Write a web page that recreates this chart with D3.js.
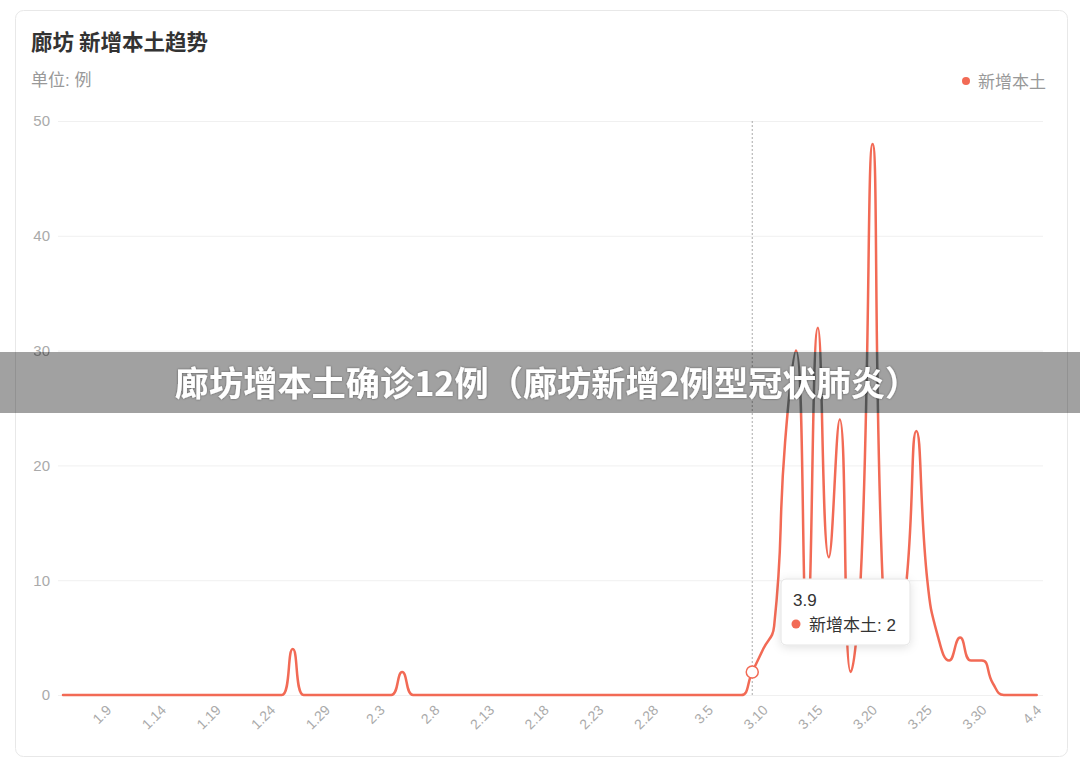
<!DOCTYPE html>
<html><head><meta charset="utf-8">
<script src="https://cdn.jsdelivr.net/npm/d3@7"></script>
<style>
html,body{margin:0;padding:0;background:#fff;}
svg{display:block;font-family:"Liberation Sans","Noto Sans CJK SC",sans-serif;}
</style></head>
<body>
<svg id="chart" width="1080" height="766"></svg>
<script>
const dates = ["1.5","1.6","1.7","1.8","1.9","1.10","1.11","1.12","1.13","1.14","1.15","1.16","1.17","1.18","1.19","1.20","1.21","1.22","1.23","1.24","1.25","1.26","1.27","1.28","1.29","1.30","1.31",
"2.1","2.2","2.3","2.4","2.5","2.6","2.7","2.8","2.9","2.10","2.11","2.12","2.13","2.14","2.15","2.16","2.17","2.18","2.19","2.20","2.21","2.22","2.23","2.24","2.25","2.26","2.27","2.28",
"3.1","3.2","3.3","3.4","3.5","3.6","3.7","3.8","3.9","3.10","3.11","3.12","3.13","3.14","3.15","3.16","3.17","3.18","3.19","3.20","3.21","3.22","3.23","3.24","3.25","3.26","3.27","3.28","3.29","3.30","3.31",
"4.1","4.2","4.3","4.4"];
const newLocal = [0,0,0,0,0,0,0,0,0,0,0,0,0,0,0,0,0,0,0,0,0,4,0,0,0,0,0,
0,0,0,0,2,0,0,0,0,0,0,0,0,0,0,0,0,0,0,0,0,0,0,0,0,0,0,0,
0,0,0,0,0,0,0,0,2,4,6,22,30,6,32,12,24,2,12,48,8,6,9,23,10,5,3,5,3,3,1,
0,0,0,0];
const tickLabels = ["1.9","1.14","1.19","1.24","1.29","2.3","2.8","2.13","2.18","2.23","2.28","3.5","3.10","3.15","3.20","3.25","3.30","4.4"];
const yTicks = [0,10,20,30,40,50];
const seriesName = "新增本土";
const chartTitle = "廊坊 新增本土趋势";
const unitLabel = "单位: 例";
const bannerText = "廊坊增本土确诊12例（廊坊新增2例型冠状肺炎）";
const tooltipDate = "3.9";

const lineColor = "#f26a55";
const svg = d3.select("#chart");

// defs
const defs = svg.append("defs");
const gm = defs.append("filter").attr("id","grayDim").attr("color-interpolation-filters","sRGB")
  .attr("filterUnits","userSpaceOnUse").attr("x",0).attr("y",0).attr("width",1080).attr("height",766);
const k = 0.63;
const r1 = [0.2126*k,0.7152*k,0.0722*k,0,0].join(" ");
gm.append("feColorMatrix").attr("type","matrix")
  .attr("values", `${r1} ${r1} ${r1} 0 0 0 1 0`);
defs.append("clipPath").attr("id","bannerClip").append("rect")
  .attr("x",0).attr("y",352).attr("width",1080).attr("height",61);
const sh = defs.append("filter").attr("id","tipShadow").attr("x","-30%").attr("y","-30%").attr("width","160%").attr("height","180%");
sh.append("feDropShadow").attr("dx",0).attr("dy",2).attr("stdDeviation",5).attr("flood-color","#000").attr("flood-opacity",0.12);
const ts = defs.append("filter").attr("id","txtShadow").attr("x","-5%").attr("y","-30%").attr("width","110%").attr("height","160%");
ts.append("feDropShadow").attr("dx",0).attr("dy",0).attr("stdDeviation",1.2).attr("flood-color","#000").attr("flood-opacity",0.45);

const content = svg.append("g").attr("id","content");
content.append("rect").attr("width",1080).attr("height",766).attr("fill","#fff");
content.append("rect").attr("x",15.5).attr("y",10.5).attr("width",1052).attr("height",746)
  .attr("rx",8).attr("fill","#fff").attr("stroke","#e8e8e8");

content.append("text").attr("x",31).attr("y",50).attr("font-size",21.5).attr("font-weight","bold")
  .attr("font-family","'Noto Sans CJK SC',sans-serif")
  .attr("fill","#333").text(chartTitle);
content.append("text").attr("x",31).attr("y",86).attr("font-size",17)
  .attr("fill","#999").text(unitLabel);

// legend
content.append("circle").attr("cx",966).attr("cy",81).attr("r",4).attr("fill",lineColor);
content.append("text").attr("x",978).attr("y",88).attr("font-size",17).attr("fill","#999").text(seriesName);

const x = d3.scalePoint().domain(dates).range([63, 1036.7]);
const y = d3.scaleLinear().domain([0,50]).range([695,121]);

// y axis + grid
const yAxis = content.append("g").attr("transform","translate(58,0)")
  .call(d3.axisLeft(y).tickValues(yTicks).tickSize(-985).tickPadding(8));
yAxis.select(".domain").remove();
yAxis.selectAll(".tick line").attr("stroke","#f0f0f0");
yAxis.selectAll(".tick text").attr("fill","#aaa").attr("font-size",15)
  .attr("font-family","'Liberation Sans',Arial,sans-serif");

// x axis labels
const xAxis = content.append("g").attr("transform","translate(0,695)")
  .call(d3.axisBottom(x).tickValues(tickLabels).tickSize(0).tickPadding(0));
xAxis.select(".domain").remove();
xAxis.selectAll(".tick text")
  .attr("fill","#aaa").attr("font-size",14)
  .attr("font-family","'Liberation Sans',Arial,sans-serif")
  .attr("text-anchor","end").attr("dy",0).attr("y",0)
  .attr("transform","translate(5,16) rotate(-45)");

// hover dashed line
const tx = x(tooltipDate);
content.append("line").attr("x1",tx).attr("x2",tx).attr("y1",121).attr("y2",695)
  .attr("stroke","#aaa").attr("stroke-width",1).attr("stroke-dasharray","2,2");

// ECharts-like smooth curve
function ecSmooth(s){
  return function(ctx){
    return {
      areaStart(){}, areaEnd(){},
      lineStart(){ this._p=[]; },
      point(px,py){ this._p.push([+px,+py]); },
      lineEnd(){
        const p=this._p, n=p.length; if(!n) return;
        ctx.moveTo(p[0][0],p[0][1]);
        let c0x=p[0][0], c0y=p[0][1];
        for(let i=1;i<n;i++){
          const [xx,yy]=p[i], [px,py]=p[i-1];
          let c1x,c1y,nx0,ny0;
          if(i===n-1){ c1x=xx;c1y=yy;nx0=xx;ny0=yy; }
          else{
            const [nx,ny]=p[i+1];
            let vx=nx-px, vy=ny-py;
            const l0=Math.hypot(xx-px,yy-py), l1=Math.hypot(nx-xx,ny-yy);
            const r=l1/(l0+l1);
            nx0=xx+vx*s*r; ny0=yy+vy*s*r;
            nx0=Math.min(nx0,Math.max(nx,xx)); nx0=Math.max(nx0,Math.min(nx,xx));
            ny0=Math.min(ny0,Math.max(ny,yy)); ny0=Math.max(ny0,Math.min(ny,yy));
            vx=nx0-xx; vy=ny0-yy;
            c1x=xx-vx*l0/l1; c1y=yy-vy*l0/l1;
            c1x=Math.min(c1x,Math.max(px,xx)); c1x=Math.max(c1x,Math.min(px,xx));
            c1y=Math.min(c1y,Math.max(py,yy)); c1y=Math.max(c1y,Math.min(py,yy));
            vx=xx-c1x; vy=yy-c1y;
            nx0=xx+vx*l1/l0; ny0=yy+vy*l1/l0;
          }
          ctx.bezierCurveTo(c0x,c0y,c1x,c1y,xx,yy);
          c0x=nx0; c0y=ny0;
        }
      }
    };
  };
}

const line = d3.line().x((d,i)=>x(dates[i])).y(d=>y(d)).curve(ecSmooth(0.5));
content.append("path").datum(newLocal).attr("d",line)
  .attr("fill","none").attr("stroke",lineColor).attr("stroke-width",2.5)
  .attr("stroke-linejoin","round").attr("stroke-linecap","round");

const ti = dates.indexOf(tooltipDate);
content.append("circle").attr("cx",tx).attr("cy",y(newLocal[ti])).attr("r",6)
  .attr("fill","#fff").attr("stroke",lineColor).attr("stroke-width",1.5);

// tooltip
const tip = content.append("g").attr("transform","translate(781,579)");
tip.append("rect").attr("width",129).attr("height",66).attr("rx",5)
  .attr("fill","#fff").attr("stroke","#e4e4e4").attr("filter","url(#tipShadow)");
tip.append("text").attr("x",12).attr("y",27).attr("font-size",17).attr("fill","#333").text(tooltipDate);
tip.append("circle").attr("cx",15).attr("cy",45).attr("r",4.5).attr("fill",lineColor);
tip.append("text").attr("x",28).attr("y",52).attr("font-size",17).attr("fill","#333")
  .text(seriesName + ": " + newLocal[ti]);

// banner: desaturated, darkened copy of the chart
svg.append("use").attr("href","#content").attr("clip-path","url(#bannerClip)").attr("filter","url(#grayDim)");
svg.append("text").attr("x",547).attr("y",396).attr("text-anchor","middle")
  .attr("font-family","'Noto Sans CJK SC',sans-serif")
  .attr("font-size",34.2).attr("font-weight","bold").attr("fill","#fff")
  .attr("filter","url(#txtShadow)")
  .text(bannerText);
</script>
</body></html>
